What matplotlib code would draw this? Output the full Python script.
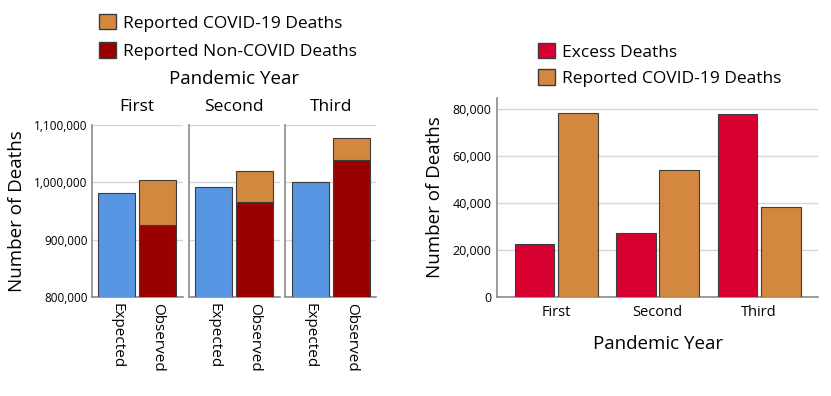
import matplotlib
matplotlib.use('Agg')
import matplotlib.pyplot as plt
from matplotlib.patches import Patch
from matplotlib.ticker import FuncFormatter
import numpy as np

plt.rcParams['font.family'] = ['Open Sans', 'DejaVu Sans']

# data
years = ['First', 'Second', 'Third']
kinds = ['Expected', 'Observed']
expected = [981400, 992600, 1000600]
non_covid = [926000, 965500, 1039700]
covid = [78300, 53900, 38400]
excess = [22600, 27100, 78000]

# colours
c_blue = '#5895E2'
c_dark = '#9B0000'
c_orange = '#D2883F'
c_red = '#D70030'
c_edge = '#3d3d3d'
c_grid = '#d6d6d6'
c_spine = '#8a8a8a'

comma = FuncFormatter(lambda v, p: f'{int(v):,}')

fig = plt.figure(figsize=(8.31, 3.96), dpi=100)

# [1] left chart : 3 facets (expected vs observed)
lefts = [91.7, 188.7, 285.3]
for i, yr in enumerate(years):
    ax = fig.add_axes([lefts[i] / 831, 1 - 297 / 396, 91 / 831, 172 / 396])
    ax.bar(0, expected[i], width=0.9, color=c_blue, edgecolor=c_edge, linewidth=0.8, zorder=3)
    ax.bar(1, non_covid[i], width=0.9, color=c_dark, edgecolor=c_edge, linewidth=0.8, zorder=3)
    ax.bar(1, covid[i], bottom=non_covid[i], width=0.9, color=c_orange, edgecolor=c_edge, linewidth=0.8, zorder=3)
    ax.set_ylim(800000, 1100000)
    ax.set_xlim(-0.6, 1.6)
    ax.set_yticks([800000, 900000, 1000000, 1100000])
    ax.yaxis.grid(True, color=c_grid, linewidth=1)
    ax.set_axisbelow(True)
    ax.set_xticks([0, 1])
    ax.set_xticklabels(kinds, rotation=270, fontsize=11)
    ax.tick_params(length=0, pad=4)
    for s in ['top', 'right']:
        ax.spines[s].set_visible(False)
    for s in ['left', 'bottom']:
        ax.spines[s].set_color(c_spine)
        ax.spines[s].set_linewidth(1.2)
    if i == 0:
        ax.yaxis.set_major_formatter(comma)
        ax.tick_params(axis='y', labelsize=8.5, pad=3)
        ax.set_ylabel('Number of Deaths', fontsize=13.5, labelpad=6)
    else:
        ax.set_yticklabels([])
    ax.set_title(yr, fontsize=12.5, pad=10)

fig.text(234 / 831, 1 - 79 / 396, 'Pandemic Year', fontsize=13.5, ha='center', va='center')

h1 = [Patch(facecolor=c_orange, edgecolor=c_edge), Patch(facecolor=c_dark, edgecolor=c_edge)]
fig.legend(h1, ['Reported COVID-19 Deaths', 'Reported Non-COVID Deaths'],
           loc='upper left', bbox_to_anchor=(92 / 831, 1 - 7 / 396), frameon=False,
           fontsize=12.5, handlelength=1.0, handleheight=1.0, handletextpad=0.4,
           labelspacing=0.6, borderaxespad=0)

# [2] right chart : excess vs reported covid
x = np.arange(len(years))
ax2 = fig.add_axes([497.3 / 831, 1 - 296.7 / 396, (818 - 497.3) / 831, (296.7 - 98) / 396])
ax2.bar(x - 0.213, excess, width=0.39, color=c_red, edgecolor=c_edge, linewidth=0.8, zorder=3)
ax2.bar(x + 0.213, covid, width=0.39, color=c_orange, edgecolor=c_edge, linewidth=0.8, zorder=3)
ax2.set_xlim(-0.58, 2.58)
ax2.set_ylim(0, 84700)
ax2.set_yticks([0, 20000, 40000, 60000, 80000])
ax2.yaxis.set_major_formatter(comma)
ax2.yaxis.grid(True, color=c_grid, linewidth=1)
ax2.set_axisbelow(True)
ax2.set_xticks(x)
ax2.set_xticklabels(years, fontsize=10.5)
ax2.tick_params(axis='y', labelsize=9, pad=4)
ax2.tick_params(length=0)
ax2.tick_params(axis='x', pad=6)
for s in ['top', 'right']:
    ax2.spines[s].set_visible(False)
for s in ['left', 'bottom']:
    ax2.spines[s].set_color(c_spine)
    ax2.spines[s].set_linewidth(1.2)
ax2.set_ylabel('Number of Deaths', fontsize=13.5, labelpad=6)
ax2.set_xlabel('Pandemic Year', fontsize=13.5, labelpad=11)

h2 = [Patch(facecolor=c_red, edgecolor=c_edge), Patch(facecolor=c_orange, edgecolor=c_edge)]
fig.legend(h2, ['Excess Deaths', 'Reported COVID-19 Deaths'],
           loc='upper left', bbox_to_anchor=(531 / 831, 1 - 36 / 396), frameon=False,
           fontsize=12.5, handlelength=1.0, handleheight=1.0, handletextpad=0.4,
           labelspacing=0.5, borderaxespad=0)

fig.savefig('out.png', dpi=100)
